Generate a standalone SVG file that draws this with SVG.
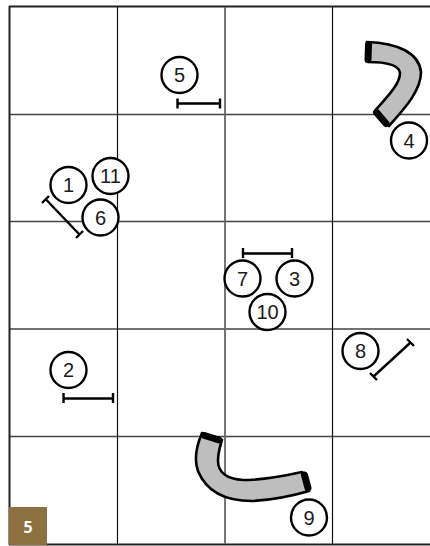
<svg xmlns="http://www.w3.org/2000/svg" width="430" height="546" viewBox="0 0 430 546">
<style>
.g{stroke:#111;stroke-width:1.2;fill:none}
.gg{stroke:#444;stroke-width:1.4;fill:none}
.k{stroke:#222;stroke-width:2;fill:none}
.v{stroke:#666;stroke-width:1.8;fill:none}
.c{fill:#fff;stroke:#000;stroke-width:2.4}
.t{font-family:"Liberation Sans",Arial,sans-serif;font-size:20px;text-anchor:middle;fill:#1a1a1a}
.b{stroke:#000;stroke-width:2.4;fill:none}
.tube{fill:#bebebe;stroke:#000;stroke-width:2.6;stroke-linejoin:round}
.end{stroke:#000;stroke-width:7;fill:none;stroke-linecap:round}
</style>
<rect width="430" height="546" fill="#fff"/>
<g id="grid">
<path class="gg" d="M9 114.500H430M9 221.500H430M9 329H430M9 436.500H430"/>
<path class="k" d="M9 6.500H430M9 544.500H430M9.500 6V545"/>
<path class="g" d="M117.500 7V544M332.500 7V544"/>
<path class="v" d="M225 7V544"/>
</g>
<g id="connectors">
<path class="tube" d="M367 42C398 43 419 53 421 72C421 92 402 111 389 126L374 112C385 99 400 85 400 73C399 65 385 62 368 62Z"/>
<path class="end" d="M368.500 44.500L368 59.500M377 113L386 123.500"/>
<path class="tube" d="M202 433C196 447 194 460 198 471C207 493 228 501 252 501C272 500 292 496 309 491L302 472C284 476 264 480 243 480C228 479 218 473 218 461C218 452 220 447 222 440Z"/>
<path class="end" d="M204.500 435.500L219 440M304.500 475L308 488"/>
<path class="b" d="M177.500 98.500V108.500M177 103.500H220M220 98.500V108.500"/>
<path class="b" d="M42 203L49 196M46 199.500L79 234M76 238L83 231"/>
<path class="b" d="M243 248V258M243 253.500H292M292 248V258"/>
<path class="b" d="M63.500 393V403M64 398.500H113M113 393V403"/>
<path class="b" d="M370 373L377 380M373.500 376.500L410 343M407 339L414 346"/>
</g>
<g id="n5"><circle class="c" cx="179.500" cy="75" r="18"/><text class="t" x="179.500" y="82">5</text></g>
<g id="n4"><circle class="c" cx="409" cy="140.500" r="18"/><text class="t" x="409" y="147.500">4</text></g>
<g id="n1"><circle class="c" cx="68.500" cy="185" r="18"/><text class="t" x="68.500" y="192">1</text></g>
<g id="n11"><circle class="c" cx="110.500" cy="176" r="18"/><text class="t" x="110.500" y="183">11</text></g>
<g id="n6"><circle class="c" cx="100.500" cy="217.500" r="18"/><text class="t" x="100.500" y="224.500">6</text></g>
<g id="n7"><circle class="c" cx="242.500" cy="278.500" r="18"/><text class="t" x="242.500" y="285.500">7</text></g>
<g id="n3"><circle class="c" cx="294.500" cy="278.500" r="18"/><text class="t" x="294.500" y="285.500">3</text></g>
<g id="n10"><circle class="c" cx="267.500" cy="312" r="18"/><text class="t" x="267.500" y="319">10</text></g>
<g id="n2"><circle class="c" cx="68.500" cy="370" r="18"/><text class="t" x="68.500" y="377">2</text></g>
<g id="n8"><circle class="c" cx="360.500" cy="351" r="18"/><text class="t" x="360.500" y="358">8</text></g>
<g id="n9"><circle class="c" cx="309" cy="517.500" r="18"/><text class="t" x="309" y="524.500">9</text></g>
<g id="badge"><rect x="9" y="507" width="38" height="38" fill="#8c7240"/><text x="28" y="533" font-family="'Open Sans','Noto Sans',sans-serif" font-weight="700" font-size="16" text-anchor="middle" fill="#fff">5</text></g>
</svg>
